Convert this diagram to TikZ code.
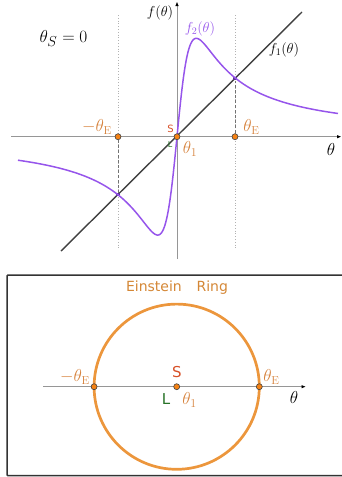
\documentclass[tikz,border=0pt]{standalone}
\usepackage{fontspec}
\newfontfamily\dejavu{DejaVu Sans}
\usetikzlibrary{arrows.meta}
\definecolor{purp}{RGB}{150,85,235}
\definecolor{ringorange}{RGB}{236,150,60}
\definecolor{lblorange}{RGB}{214,130,60}
\definecolor{dotorange}{RGB}{245,130,20}
\definecolor{sred}{RGB}{215,80,40}
\definecolor{lgreen}{RGB}{40,115,40}
\definecolor{axisgray}{RGB}{150,150,150}
\tikzset{
  axisline/.style={draw=axisgray, line width=1pt, -{Latex[length=4.5pt,width=3.5pt,black]}},
  odot/.style={circle, fill=dotorange, draw=black!75, line width=0.6pt, inner sep=0pt, minimum size=6pt},
  pdot/.style={rectangle, fill=purp!60!black, inner sep=0pt, minimum size=3.5pt},
  guide/.style={draw=black!30, line width=0.8pt, dotted},
  dropline/.style={draw=black!55, line width=0.8pt, dashed, dash pattern=on 3pt off 2pt},
  olabel/.style={text=lblorange, inner sep=0pt, font=\fontsize{16.5}{18}\selectfont},
  blabel/.style={text=black, inner sep=0pt, font=\fontsize{17}{19}\selectfont},
  flabel/.style={inner sep=0pt, font=\fontsize{14}{16}\selectfont},
}
\begin{document}
\begin{tikzpicture}[x=1pt,y=-1pt]
\useasboundingbox (0,0) rectangle (342,477);
% ---------- top plot ----------
\coordinate (O) at (177,136.7);
\coordinate (xl) at (11,136.7);
\coordinate (xr) at (341.5,136.7);
\coordinate (yb) at (177,259);
\coordinate (yt) at (177,1.5);
\coordinate (gl1) at (118,15);
\coordinate (gl2) at (118,250);
\coordinate (gr1) at (235,15);
\coordinate (gr2) at (235,250);
\draw[guide] (gl1) -- (gl2);
\draw[guide] (gr1) -- (gr2);
\draw[axisline] (xl) -- (xr);
\draw[axisline] (yb) -- (yt);
\coordinate (l1) at (61,251);
\coordinate (l2) at (302,12);
\draw[black!75, line width=1.4pt] (l1) -- (l2);
\node[odot] (pl) at (118,136.7) {};
\node[odot] (pr) at (235,136.7) {};
\node[pdot] (il) at (118,194.6) {};
\node[pdot] (ir) at (235,78.6) {};
\draw[dropline] (pl) -- (il);
\draw[dropline] (pr) -- (ir);
\draw[purp, line width=1.5pt, domain=18:338, samples=500, smooth]
  plot (\x, {136.7 - 379.4*((\x-177)/10)/(((\x-177)/10)^2+3.72)});
\node[odot] (p0) at (O) {};
\node[blabel, font=\fontsize{19}{21}\selectfont] (thetaS) at (63.5,38.5) {$\theta_S = 0$};
\node[flabel] (fth) at (160,13) {$f(\theta)$};
\node[flabel, text=purp] (f2) at (200,29) {$f_2(\theta)$};
\node[flabel] (f1) at (284,50) {$f_1(\theta)$};
\node[olabel] (mte) at (97,127) {$-\theta_{\mathrm{E}}$};
\node[olabel] (te) at (251.5,127) {$\theta_{\mathrm{E}}$};
\node[inner sep=0pt, text=sred, font=\dejavu\fontsize{10}{12}\selectfont] (s1) at (170.5,129) {S};
\node[inner sep=0pt, text=lgreen, font=\dejavu\fontsize{8}{10}\selectfont] (lt) at (170,145) {L};
\node[olabel] (th1) at (190,149) {$\theta_1$};
\node[blabel] (thx) at (331,149) {$\theta$};
% ---------- bottom panel ----------
\coordinate (b1) at (7,275);
\coordinate (b2) at (352,475.7);
\draw[black!80, line width=1.5pt, rounded corners=1pt] (b1) rectangle (b2);
\coordinate (C) at (176.7,386.7);
\draw[ringorange, line width=2.7pt] (C) circle (82.6);
\coordinate (ax1) at (43,386.7);
\coordinate (ax2) at (306,386.7);
\draw[axisline, line width=1.3pt] (ax1) -- (ax2);
\node[odot] (rl) at (94.1,386.7) {};
\node[odot] (rc) at (C) {};
\node[odot] (rr) at (259.3,386.7) {};
\node[inner sep=0pt, text=ringorange!90!black, font=\dejavu\fontsize{14}{16}\selectfont] (ein) at (177,288) {Einstein\hspace{1.05em}Ring};
\node[olabel] (bmte) at (75,377) {$-\theta_{\mathrm{E}}$};
\node[olabel] (bte) at (271.5,377) {$\theta_{\mathrm{E}}$};
\node[inner sep=0pt, text=sred, font=\dejavu\fontsize{15}{17}\selectfont] (s2) at (177,372.5) {S};
\node[inner sep=0pt, text=lgreen, font=\dejavu\fontsize{15}{17}\selectfont] (lb) at (166,399) {L};
\node[olabel] (bth1) at (189.5,400) {$\theta_1$};
\node[blabel] (bth) at (294,397) {$\theta$};
\end{tikzpicture}
\end{document}
